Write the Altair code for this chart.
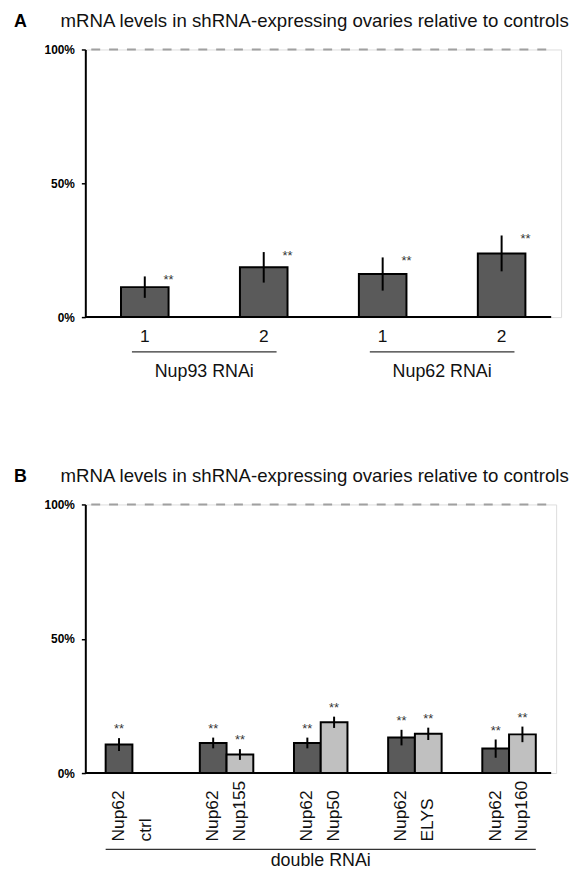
import altair as alt
import pandas as pd

FONT = "Liberation Sans"

# ---------------- data ----------------
title_text = "mRNA levels in shRNA-expressing ovaries relative to controls"
y_ticks = [0, 50, 100]

# Panel A
a_groups = ["Nup93 RNAi", "Nup93 RNAi", "Nup62 RNAi", "Nup62 RNAi"]
a_lines = ["1", "2", "1", "2"]
a_values = [11.2, 18.6, 16.1, 23.8]
a_errors = [4.0, 5.7, 6.2, 6.7]

# Panel B
b_pairs = ["Nup62+ctrl", "Nup62+Nup155", "Nup62+Nup50", "Nup62+ELYS", "Nup62+Nup160"]
b_first_labels = ["Nup62", "Nup62", "Nup62", "Nup62", "Nup62"]
b_second_labels = ["ctrl", "Nup155", "Nup50", "ELYS", "Nup160"]
b_first_values = [10.6, 11.2, 11.2, 13.2, 9.1]
b_first_errors = [2.4, 2.0, 2.0, 2.9, 3.4]
b_second_values = [None, 6.9, 18.9, 14.6, 14.4]
b_second_errors = [None, 2.0, 2.1, 2.3, 2.9]
b_group_label = "double RNAi"

# ---------------- tables ----------------
dfA = pd.DataFrame({"group": a_groups, "line": a_lines, "value": a_values, "err": a_errors})
dfA["id"] = dfA["group"] + "|" + dfA["line"]
dfA["lo"] = dfA["value"] - dfA["err"]
dfA["hi"] = dfA["value"] + dfA["err"]
a_ids = list(dfA["id"])
dfAG = dfA.groupby("group", sort=False).agg(first=("id", "first"), last=("id", "last")).reset_index()

rows = []
for i, p in enumerate(b_pairs):
    rows.append({"pair": p, "sub": "a", "label": b_first_labels[i],
                 "value": b_first_values[i], "err": b_first_errors[i]})
    rows.append({"pair": p, "sub": "b", "label": b_second_labels[i],
                 "value": b_second_values[i], "err": b_second_errors[i]})
dfB = pd.DataFrame(rows)
dfB["lo"] = dfB["value"] - dfB["err"]
dfB["hi"] = dfB["value"] + dfB["err"]
dfBbars = dfB.dropna(subset=["value"])
dfBG = pd.DataFrame({"label": [b_group_label], "first": [b_pairs[0]], "last": [b_pairs[-1]],
                     "mid": [b_pairs[len(b_pairs) // 2]]})
one = pd.DataFrame({"k": [0]})

# ---------------- shared pieces ----------------
def y_enc(field):
    return alt.Y(field, scale=alt.Scale(domain=[0, 100], nice=False, zero=True),
                 axis=alt.Axis(title=None, values=y_ticks, labelExpr="datum.value + '%'",
                               grid=False, domainColor="black", domainWidth=2,
                               tickColor="black", tickSize=4, tickWidth=1.5,
                               labelFont=FONT, labelFontWeight="bold", labelFontSize=12,
                               labelPadding=7, labelColor="black"))

def header(letter):
    t1 = alt.Chart(one).mark_text(align="left", baseline="alphabetic", fontSize=18,
                                  fontWeight="bold", font=FONT, color="black").encode(
        x=alt.value(-72), y=alt.value(-23), text=alt.value(letter))
    t2 = alt.Chart(one).mark_text(align="left", baseline="alphabetic", fontSize=18.8,
                                  font=FONT, color="#111").encode(
        x=alt.value(-25), y=alt.value(-23), text=alt.value(title_text))
    return t1 + t2

def frame(width_px):
    dash = alt.Chart(one).mark_rule(color="#a0a0a0", strokeWidth=2, strokeDash=[9, 9]).encode(
        y=alt.datum(100), x=alt.value(6), x2=alt.value(width_px))
    axis_line = alt.Chart(one).mark_rule(color="black", strokeWidth=2).encode(
        y=alt.datum(0), x=alt.value(0), x2=alt.value(width_px))
    return dash, axis_line

# ---------------- panel A ----------------
xA_scale = alt.Scale(domain=a_ids, paddingInner=0.6, paddingOuter=0.3)
xA = alt.X("id:N", scale=xA_scale,
           axis=alt.Axis(title=None, labelExpr="split(datum.label, '|')[1]", ticks=False,
                         domain=False, labelAngle=0, labelFontSize=17.5, labelFont=FONT,
                         labelColor="#111", labelPadding=11))

barsA = alt.Chart(dfA).mark_bar(color="#5a5a5a", stroke="black", strokeWidth=2).encode(
    x=xA, y=y_enc("value:Q"))
errA = alt.Chart(dfA).mark_rule(color="black", strokeWidth=2).encode(
    x=alt.X("id:N", scale=xA_scale), y="lo:Q", y2="hi:Q")
starA = alt.Chart(dfA).mark_text(text="**", fontSize=13, font=FONT, color="#333",
                                 baseline="alphabetic", dy=8).encode(
    x=alt.X("id:N", scale=xA_scale, bandPosition=1), y="hi:Q")
underA = alt.Chart(dfAG).mark_rule(color="#333", strokeWidth=1.2).encode(
    x=alt.X("first:N", scale=xA_scale, bandPosition=0.23),
    x2=alt.X2("last:N", bandPosition=0.77),
    y=alt.value(305))
groupA = alt.Chart(dfAG).mark_text(fontSize=18, font=FONT, color="#111",
                                   baseline="alphabetic", dx=60).encode(
    x=alt.X("first:N", scale=xA_scale, bandPosition=0.5), y=alt.value(330), text="group:N")
dashA, lineA = frame(470)

panelA = alt.layer(dashA, barsA, errA, starA, lineA, underA, groupA, header("A")).properties(
    width=480, height=270)

# ---------------- panel B ----------------
xB_scale = alt.Scale(domain=b_pairs, paddingInner=0.432, paddingOuter=0.216)
xB = alt.X("pair:N", scale=xB_scale, axis=None)
xOff = alt.XOffset("sub:N", scale=alt.Scale(domain=["a", "b"], paddingInner=0, paddingOuter=0))
colB = alt.Color("sub:N", scale=alt.Scale(domain=["a", "b"], range=["#5a5a5a", "#c0c0c0"]),
                 legend=None)

barsB = alt.Chart(dfBbars).mark_bar(stroke="black", strokeWidth=2).encode(
    x=xB, xOffset=xOff, y=y_enc("value:Q"), color=colB)
errB = alt.Chart(dfBbars).mark_rule(color="black", strokeWidth=2).encode(
    x=xB, xOffset=xOff, y="lo:Q", y2="hi:Q")
starB = alt.Chart(dfBbars).mark_text(text="**", fontSize=13, font=FONT, color="#333",
                                     baseline="alphabetic", dy=-5).encode(
    x=xB, xOffset=xOff, y="hi:Q")
labB = alt.Chart(dfB).mark_text(angle=270, align="left", baseline="middle", fontSize=17.5,
                                font=FONT, color="#111").encode(
    x=xB, xOffset=xOff, y=alt.value(340), text="label:N")
underB = alt.Chart(dfBG).mark_rule(color="#333", strokeWidth=1.2).encode(
    x=alt.X("first:N", scale=xB_scale, bandPosition=0),
    x2=alt.X2("last:N", bandPosition=1),
    y=alt.value(348))
groupB = alt.Chart(dfBG).mark_text(fontSize=18, font=FONT, color="#111",
                                   baseline="alphabetic").encode(
    x=alt.X("mid:N", scale=xB_scale), y=alt.value(365), text="label:N")
dashB, lineB = frame(470)

panelB = alt.layer(dashB, barsB, errB, starB, lineB, labB, underB, groupB, header("B")).properties(
    width=475, height=271)

chart = alt.vconcat(panelA, panelB, spacing=85).properties(
    padding={"left": 5, "top": -1, "right": 0, "bottom": 0}
).configure_view(stroke=None).configure(font=FONT)

chart.save("out.html", embed_options={"renderer": "svg", "actions": False})
